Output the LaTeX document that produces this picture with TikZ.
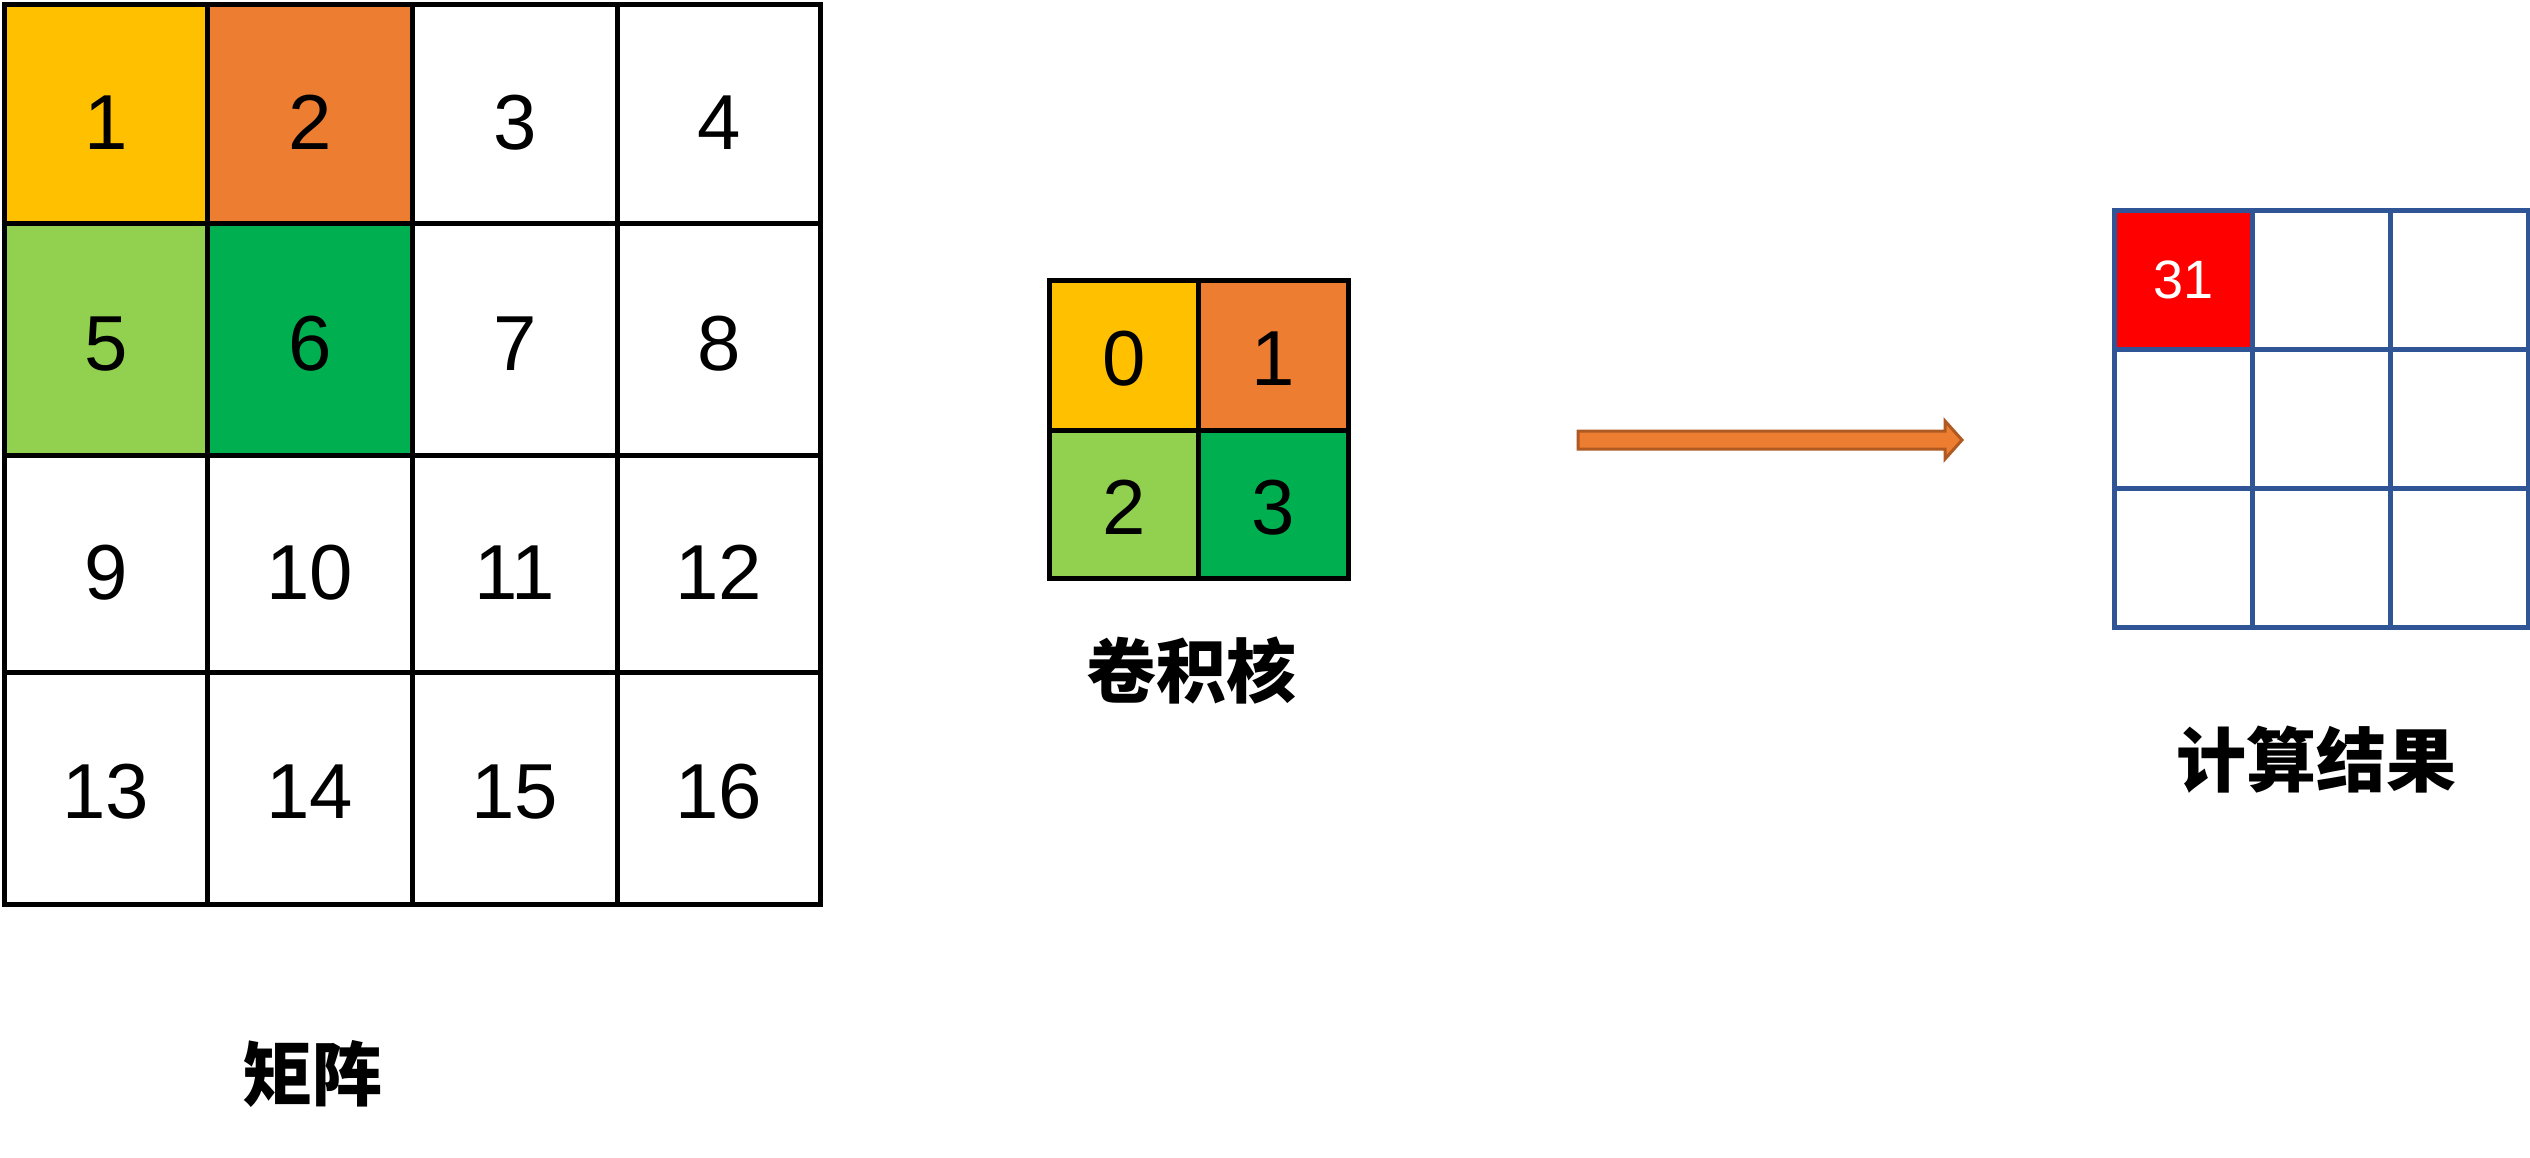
\documentclass[tikz,border=0pt]{standalone}
\usepackage{fontspec}
\setmainfont{Liberation Sans}
\newfontfamily\cjk{Noto Sans CJK SC}
\definecolor{cY}{HTML}{FFC000}
\definecolor{cO}{HTML}{ED7D31}
\definecolor{cLG}{HTML}{92D050}
\definecolor{cDG}{HTML}{00B050}
\definecolor{cR}{HTML}{FF0000}
\definecolor{cB}{HTML}{2F5597}
\definecolor{cAO}{HTML}{AE5A21}
\tikzset{
  mcell/.style={draw=black, line width=4.5pt, rectangle, anchor=north west, inner sep=0pt,
    font=\fontsize{78}{80}\selectfont, fill=white, text depth=0pt},
  rcell/.style={draw=cB, line width=5pt, rectangle, anchor=north west, inner sep=0pt,
    minimum width=138pt, minimum height=139pt, fill=white},
  lbl/.style={font=\cjk\bfseries\fontsize{70}{72}\selectfont, inner sep=0pt}
}
\begin{document}
\begin{tikzpicture}[x=1pt,y=-1pt]
\useasboundingbox (0,0) rectangle (2530,1157);
\fill[white] (0,0) rectangle (2530,1157);
% input matrix
\begin{scope}[every node/.append style={text height=72pt}]
\node[mcell, fill=cY,  minimum width=203pt, minimum height=219pt] (m1)  at (2,2)   {1};
\node[mcell, fill=cO,  minimum width=205pt, minimum height=219pt] (m2)  at (205,2) {2};
\node[mcell,           minimum width=205pt, minimum height=219pt] (m3)  at (410,2) {3};
\node[mcell,           minimum width=203pt, minimum height=219pt] (m4)  at (615,2) {4};
\end{scope}
\begin{scope}[every node/.append style={text height=62pt}]
\node[mcell, fill=cLG, minimum width=203pt, minimum height=232pt] (m5)  at (2,221)   {5};
\node[mcell, fill=cDG, minimum width=205pt, minimum height=232pt] (m6)  at (205,221) {6};
\node[mcell,           minimum width=205pt, minimum height=232pt] (m7)  at (410,221) {7};
\node[mcell,           minimum width=203pt, minimum height=232pt] (m8)  at (615,221) {8};
\end{scope}
\begin{scope}[every node/.append style={text height=72pt}]
\node[mcell,           minimum width=203pt, minimum height=217pt] (m9)  at (2,453)   {9};
\node[mcell,           minimum width=205pt, minimum height=217pt] (m10) at (205,453) {10};
\node[mcell,           minimum width=205pt, minimum height=217pt] (m11) at (410,453) {11};
\node[mcell,           minimum width=203pt, minimum height=217pt] (m12) at (615,453) {12};
\end{scope}
\begin{scope}[every node/.append style={text height=60pt}]
\node[mcell,           minimum width=203pt, minimum height=232pt] (m13) at (2,670)   {13};
\node[mcell,           minimum width=205pt, minimum height=232pt] (m14) at (205,670) {14};
\node[mcell,           minimum width=205pt, minimum height=232pt] (m15) at (410,670) {15};
\node[mcell,           minimum width=203pt, minimum height=232pt] (m16) at (615,670) {16};
\end{scope}
\node[lbl] (lm) at (312,1074) {矩阵};
% kernel
\begin{scope}[every node/.append style={text height=60pt}]
\node[mcell, fill=cY,  minimum width=149pt, minimum height=150pt] (k0) at (1047,278) {0};
\node[mcell, fill=cO,  minimum width=150pt, minimum height=150pt] (k1) at (1196,278) {1};
\node[mcell, fill=cLG, minimum width=149pt, minimum height=148pt] (k2) at (1047,428) {2};
\node[mcell, fill=cDG, minimum width=150pt, minimum height=148pt] (k3) at (1196,428) {3};
\end{scope}
\node[lbl] (lk) at (1191,671) {卷积核};
% arrow
\draw[fill=cO, draw=cAO, line width=3pt, line join=miter]
  (1578,431) -- (1945,431) -- (1945,421) -- (1962,440) -- (1945,459) -- (1945,449) -- (1578,449) -- cycle;
% result
\node[rcell, fill=cR, text=white, font=\fontsize{54}{56}\selectfont] (r1) at (2112,208) {31};
\node[rcell] (r2) at (2250,208) {};
\node[rcell] (r3) at (2388,208) {};
\node[rcell] (r4) at (2112,347) {};
\node[rcell] (r5) at (2250,347) {};
\node[rcell] (r6) at (2388,347) {};
\node[rcell] (r7) at (2112,486) {};
\node[rcell] (r8) at (2250,486) {};
\node[rcell] (r9) at (2388,486) {};
\node[lbl] (lr) at (2316,760) {计算结果};
\end{tikzpicture}
\end{document}
